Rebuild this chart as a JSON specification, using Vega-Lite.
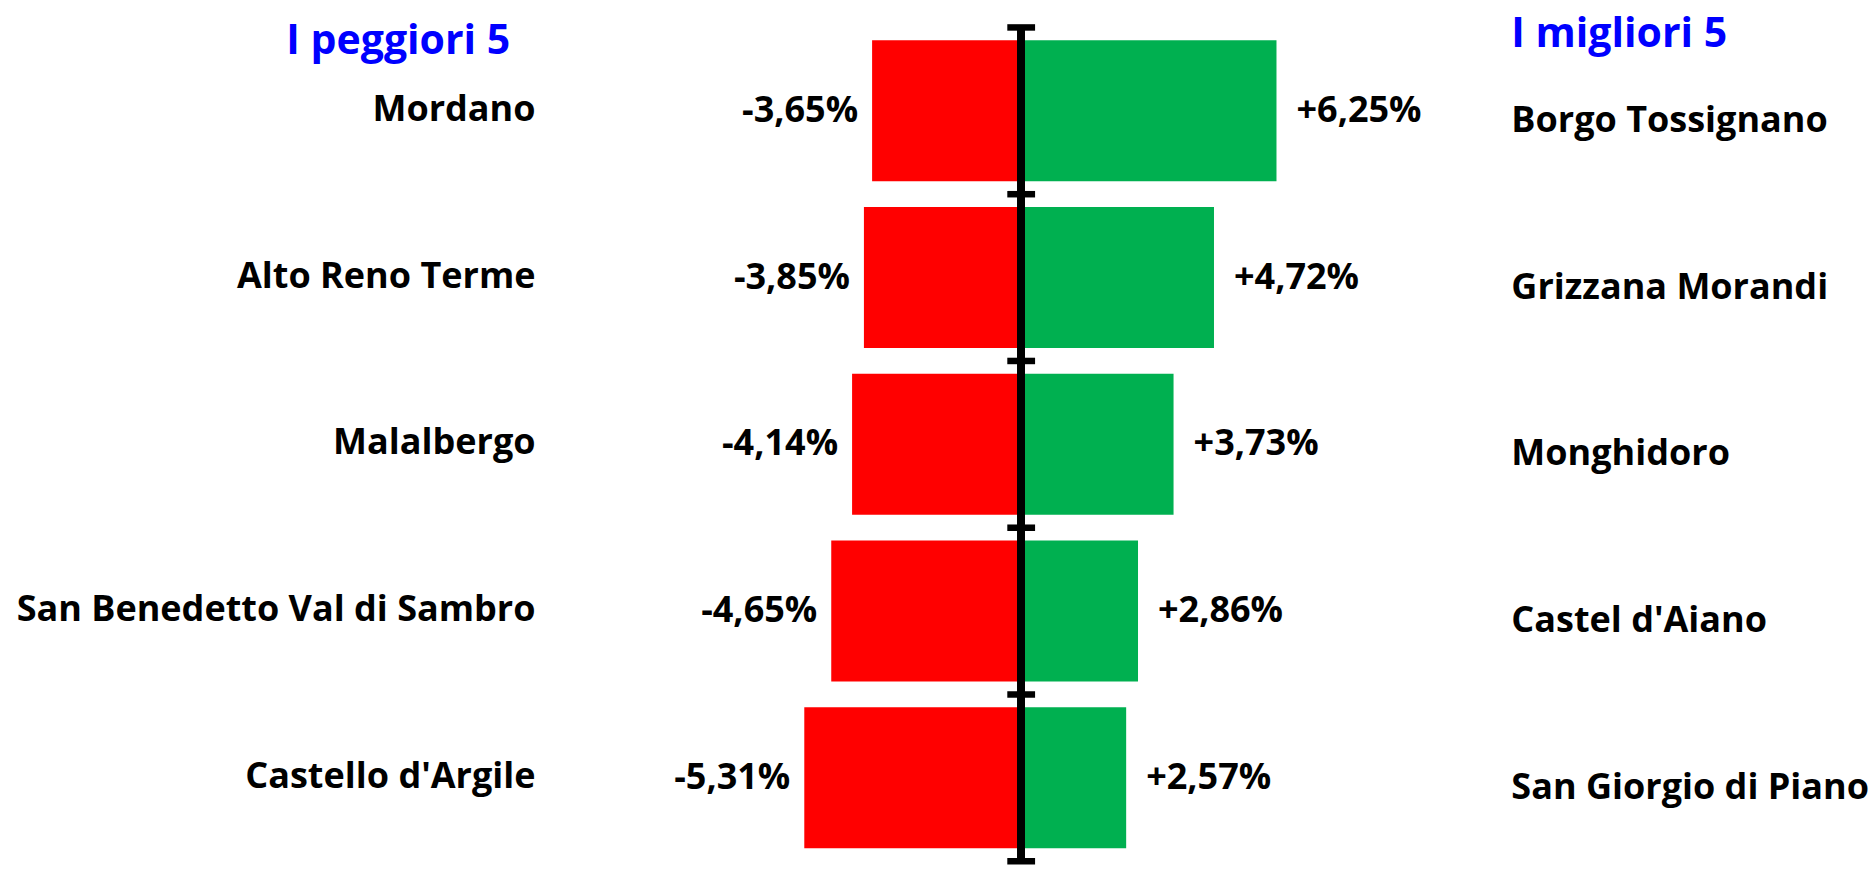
{
  "$schema": "https://vega.github.io/schema/vega-lite/v6.json",
  "width": 1870,
  "height": 870,
  "padding": 0,
  "autosize": "none",
  "background": "white",
  "config": {
    "view": {"stroke": null},
    "locale": {"number": {"decimal": ",", "thousands": ".", "grouping": [3], "currency": ["", " €"], "minus": "-", "percent": "%"}},
    "text": {"font": "Open Sans", "fontWeight": "bold"}
  },
  "datasets": {
    "righe": [
      {"pos": 1, "peggiore": "Mordano", "v_peggiore": -0.0365, "migliore": "Borgo Tossignano", "v_migliore": 0.0625},
      {"pos": 2, "peggiore": "Alto Reno Terme", "v_peggiore": -0.0385, "migliore": "Grizzana Morandi", "v_migliore": 0.0472},
      {"pos": 3, "peggiore": "Malalbergo", "v_peggiore": -0.0414, "migliore": "Monghidoro", "v_migliore": 0.0373},
      {"pos": 4, "peggiore": "San Benedetto Val di Sambro", "v_peggiore": -0.0465, "migliore": "Castel d'Aiano", "v_migliore": 0.0286},
      {"pos": 5, "peggiore": "Castello d'Argile", "v_peggiore": -0.0531, "migliore": "San Giorgio di Piano", "v_migliore": 0.0257}
    ],
    "confini": [{"b": 0.5}, {"b": 1.5}, {"b": 2.5}, {"b": 3.5}, {"b": 4.5}, {"b": 5.5}]
  },
  "layer": [
    {
      "data": {"name": "righe"},
      "mark": {"type": "bar", "color": "#FF0000", "size": 141},
      "encoding": {
        "x": {"field": "v_peggiore", "type": "quantitative", "axis": null, "scale": {"domain": [-0.25, 0.2078], "nice": false, "zero": false}},
        "x2": {"datum": 0},
        "y": {"field": "pos", "type": "quantitative", "axis": null, "scale": {"domain": [0.3654, 5.5225], "reverse": true, "nice": false, "zero": false}}
      }
    },
    {
      "data": {"name": "righe"},
      "mark": {"type": "bar", "color": "#00B050", "size": 141},
      "encoding": {
        "x": {"field": "v_migliore", "type": "quantitative", "axis": null},
        "x2": {"datum": 0},
        "y": {"field": "pos", "type": "quantitative", "axis": null}
      }
    },
    {
      "data": {"name": "righe"},
      "mark": {"type": "rule", "color": "black", "strokeWidth": 7.5, "strokeCap": "butt"},
      "encoding": {
        "x": {"datum": 0, "type": "quantitative", "axis": null},
        "y": {"datum": 0.5, "type": "quantitative", "axis": null},
        "y2": {"datum": 5.5}
      }
    },
    {
      "data": {"name": "confini"},
      "mark": {"type": "rule", "color": "black", "strokeWidth": 6.5, "strokeCap": "butt"},
      "encoding": {
        "x": {"datum": -0.0034, "type": "quantitative", "axis": null},
        "x2": {"datum": 0.0034},
        "y": {"field": "b", "type": "quantitative", "axis": null}
      }
    },
    {
      "data": {"name": "righe"},
      "mark": {"type": "text", "align": "right", "baseline": "alphabetic", "dx": -14, "dy": 11, "fontSize": 36, "color": "black"},
      "encoding": {
        "x": {"field": "v_peggiore", "type": "quantitative", "axis": null},
        "y": {"field": "pos", "type": "quantitative", "axis": null},
        "text": {"field": "v_peggiore", "type": "quantitative", "format": "+.2%"}
      }
    },
    {
      "data": {"name": "righe"},
      "mark": {"type": "text", "align": "left", "baseline": "alphabetic", "dx": 20, "dy": 11, "fontSize": 36, "color": "black"},
      "encoding": {
        "x": {"field": "v_migliore", "type": "quantitative", "axis": null},
        "y": {"field": "pos", "type": "quantitative", "axis": null},
        "text": {"field": "v_migliore", "type": "quantitative", "format": "+.2%"}
      }
    },
    {
      "data": {"name": "righe"},
      "mark": {"type": "text", "align": "right", "baseline": "alphabetic", "dy": 10, "fontSize": 36, "color": "black"},
      "encoding": {
        "x": {"datum": -0.1189, "type": "quantitative", "axis": null},
        "y": {"field": "pos", "type": "quantitative", "axis": null},
        "text": {"field": "peggiore", "type": "nominal"}
      }
    },
    {
      "data": {"name": "righe"},
      "mark": {"type": "text", "align": "left", "baseline": "alphabetic", "dy": 21, "fontSize": 36, "color": "black"},
      "encoding": {
        "x": {"datum": 0.12, "type": "quantitative", "axis": null},
        "y": {"field": "pos", "type": "quantitative", "axis": null},
        "text": {"field": "migliore", "type": "nominal"}
      }
    },
    {
      "data": {"values": [{"titolo": "I peggiori 5"}]},
      "mark": {"type": "text", "align": "left", "baseline": "alphabetic", "fontSize": 41, "color": "#0000FF"},
      "encoding": {
        "x": {"datum": -0.1799, "type": "quantitative", "axis": null},
        "y": {"datum": 0.6619, "type": "quantitative", "axis": null},
        "text": {"field": "titolo", "type": "nominal"}
      }
    },
    {
      "data": {"values": [{"titolo": "I migliori 5"}]},
      "mark": {"type": "text", "align": "left", "baseline": "alphabetic", "fontSize": 41, "color": "#0000FF"},
      "encoding": {
        "x": {"datum": 0.12, "type": "quantitative", "axis": null},
        "y": {"datum": 0.6186, "type": "quantitative", "axis": null},
        "text": {"field": "titolo", "type": "nominal"}
      }
    }
  ]
}
